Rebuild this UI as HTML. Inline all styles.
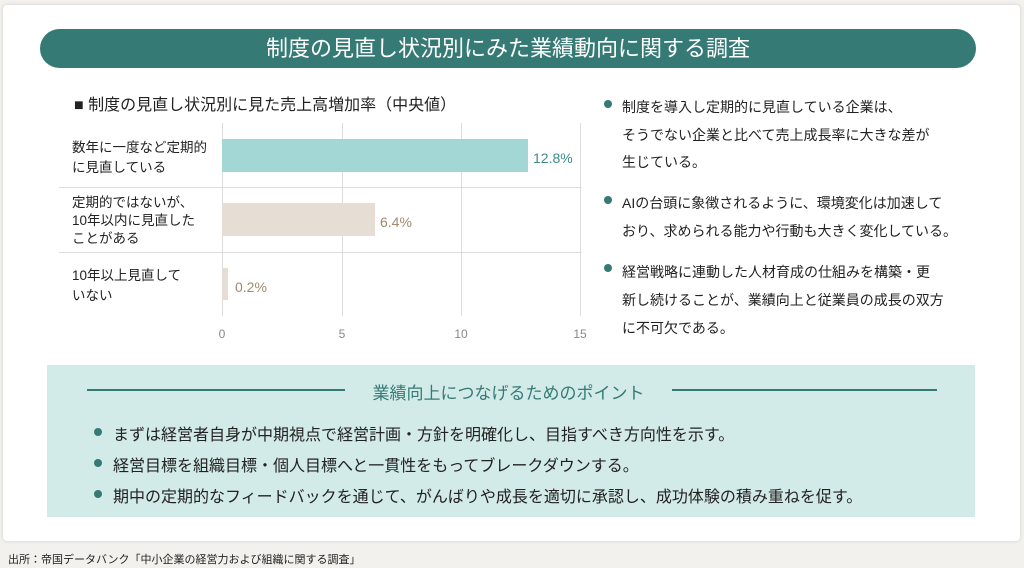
<!DOCTYPE html><html><head><meta charset="utf-8"><style>
*{margin:0;padding:0;box-sizing:border-box}
body{width:1024px;height:568px;background:#f3f1ed;position:relative;font-family:"Liberation Sans","Noto Sans CJK JP",sans-serif;color:#222;overflow:hidden}
.a{position:absolute;white-space:nowrap}
.card{position:absolute;left:3px;top:5px;width:1017px;height:536px;background:#fff;border-radius:4px;box-shadow:0 0 3px #ccc}
.pill{position:absolute;left:40px;top:29px;width:936px;height:39px;background:#357a75;border-radius:20px;color:#fff;font-size:22px;line-height:39px;text-align:center}
.lbl{font-size:13.5px;line-height:18px;color:#222}
.bul{font-size:14px;color:#222}
.dot{position:absolute;width:8px;height:8px;border-radius:50%;background:#357a75}
</style></head><body>
<div class="card"></div>
<div class="pill">制度の見直し状況別にみた業績動向に関する調査</div>
<div class="a" style="left:74px;top:91px;font-size:16px">■ 制度の見直し状況別に見た売上高増加率（中央値）</div>
<svg class="a" style="left:0;top:0" width="600" height="350">
<g stroke="#ddd" stroke-width="1"><line x1="222.5" y1="123" x2="222.5" y2="316"/><line x1="342.5" y1="123" x2="342.5" y2="316"/><line x1="461.5" y1="123" x2="461.5" y2="316"/><line x1="580.5" y1="123" x2="580.5" y2="316"/>
<line x1="59" y1="187.5" x2="582" y2="187.5"/><line x1="59" y1="252.5" x2="582" y2="252.5"/></g>
<rect x="222" y="139" width="306" height="33" fill="#a2d7d6"/>
<rect x="222" y="203" width="153" height="33" fill="#e6ded5"/>
<rect x="222" y="268" width="6" height="32" fill="#e6ded5"/>
<g font-size="14" font-family="Liberation Sans,sans-serif"><text x="533" y="163" fill="#3c8c87">12.8%</text><text x="380" y="227" fill="#a08a6e">6.4%</text><text x="235" y="292" fill="#a08a6e">0.2%</text></g>
<g font-size="12" fill="#888" text-anchor="middle"><text x="222" y="338">0</text><text x="342" y="338">5</text><text x="461" y="338">10</text><text x="580" y="338">15</text></g>
</svg>
<div class="a lbl" style="left:72px;top:138px;line-height:20px">数年に一度など定期的<br>に見直している</div>
<div class="a lbl" style="left:72px;top:194px">定期的ではないが、<br>10年以内に見直した<br>ことがある</div>
<div class="a lbl" style="left:72px;top:266px;line-height:20px">10年以上見直して<br>いない</div>
<div class="dot" style="left:604px;top:100px"></div>
<div class="a bul" style="left:622px;top:94px;line-height:27.5px">制度を導入し定期的に見直している企業は、<br>そうでない企業と比べて売上成長率に大きな差が<br>生じている。</div>
<div class="dot" style="left:604px;top:196px"></div>
<div class="a bul" style="left:622px;top:190px;line-height:27.5px">AIの台頭に象徴されるように、環境変化は加速して<br>おり、求められる能力や行動も大きく変化している。</div>
<div class="dot" style="left:604px;top:264px"></div>
<div class="a bul" style="left:622px;top:258px;line-height:28px">経営戦略に連動した人材育成の仕組みを構築・更<br>新し続けることが、業績向上と従業員の成長の双方<br>に不可欠である。</div>
<div class="a" style="left:47px;top:365px;width:928px;height:152px;background:#d2eae8"></div>
<div class="a" style="left:87px;top:389px;width:258px;height:2px;background:#357a75"></div>
<div class="a" style="left:672px;top:389px;width:265px;height:2px;background:#357a75"></div>
<div class="a" style="left:345px;top:379px;width:327px;text-align:center;font-size:17px;color:#357a75">業績向上につなげるためのポイント</div>
<div class="dot" style="left:94px;top:428px"></div>
<div class="a" style="left:113px;top:421px;font-size:16px">まずは経営者自身が中期視点で経営計画・方針を明確化し、目指すべき方向性を示す。</div>
<div class="dot" style="left:94px;top:459px"></div>
<div class="a" style="left:113px;top:452px;font-size:16px">経営目標を組織目標・個人目標へと一貫性をもってブレークダウンする。</div>
<div class="dot" style="left:94px;top:490px"></div>
<div class="a" style="left:113px;top:483px;font-size:16px">期中の定期的なフィードバックを通じて、がんばりや成長を適切に承認し、成功体験の積み重ねを促す。</div>
<div class="a" style="left:8px;top:551px;font-size:11px">出所：帝国データバンク「中小企業の経営力および組織に関する調査」</div>
</body></html>
